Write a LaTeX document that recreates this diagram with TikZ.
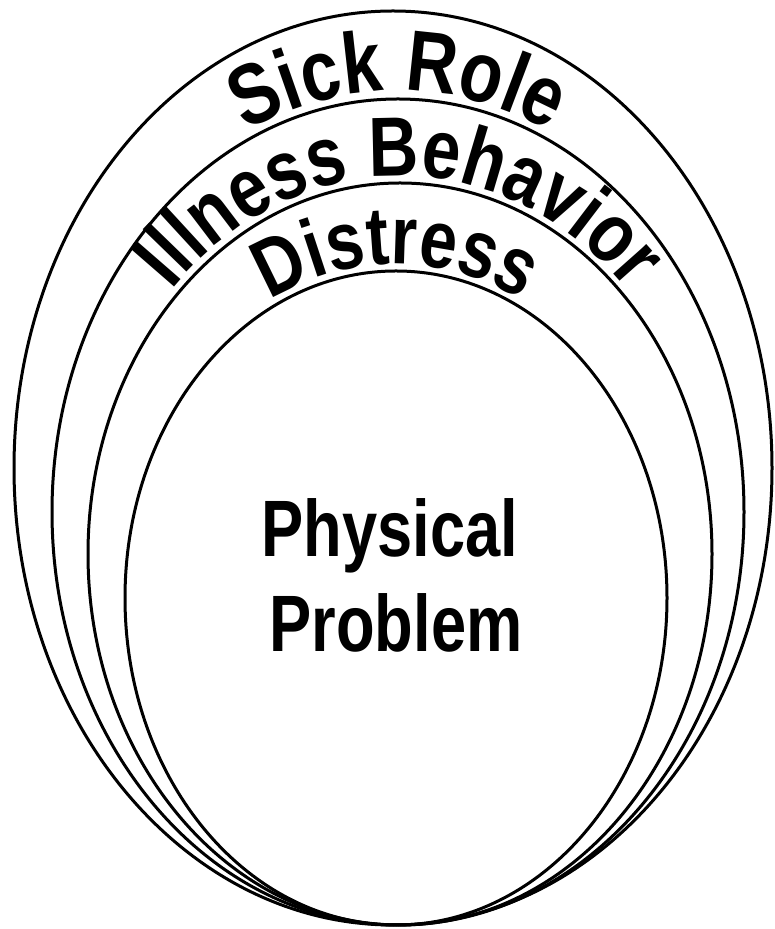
\documentclass[tikz,border=0pt]{standalone}
\usepackage{fontspec}
\setmainfont{Liberation Sans}
\newfontfamily\narrowfam[FakeStretch=0.82]{Liberation Sans}
\newfontfamily\midfam[FakeStretch=0.79]{Liberation Sans}
\usetikzlibrary{decorations.text, positioning}
\tikzset{
  % Ring line style
  ring/.style={
    line width = 3pt
  },
}
\newcommand\ringfont[1]{\narrowfam\bfseries\fontsize{#1}{#1}\selectfont}

\begin{document}
\begin{tikzpicture}
          [x=1pt, y=1pt,
           arctxt/.style={decorate,
                          decoration={text along path, text align=center, text={#1}}},
           txt/.style={anchor=base, font=\midfam\bfseries\fontsize{80}{95}\selectfont}
          ]
          \useasboundingbox (0,0) rectangle (774,929);

          % rings, all touching at the bottom
          \draw[ring] (393,461) ellipse [x radius=379pt, y radius=457pt];
          \draw[ring] (398,417) ellipse [x radius=346pt, y radius=413pt];
          \draw[ring] (400,375) ellipse [x radius=312pt, y radius=371pt];
          \draw[ring] (396,331) ellipse [x radius=271pt, y radius=327pt];

          % ring labels
          \path[arctxt={|\ringfont{86}|Sick Role}]
                (398,417) ++(160:355pt and 421pt)
                arc [start angle=160, end angle=20, x radius=355pt, y radius=421pt];
          \path[arctxt={|\ringfont{84}|Illness Behavior}]
                (400,375) ++(160:319pt and 378pt)
                arc [start angle=160, end angle=20, x radius=319pt, y radius=378pt];
          \path[arctxt={|\ringfont{82}|Distress}]
                (396,331) ++(160:278pt and 334pt)
                arc [start angle=160, end angle=20, x radius=278pt, y radius=334pt];

          \node (physical) [txt] at (390,372) {Physical};
          \node (problem) [txt] at (396,277) {Problem};
      \end{tikzpicture}
\end{document}
